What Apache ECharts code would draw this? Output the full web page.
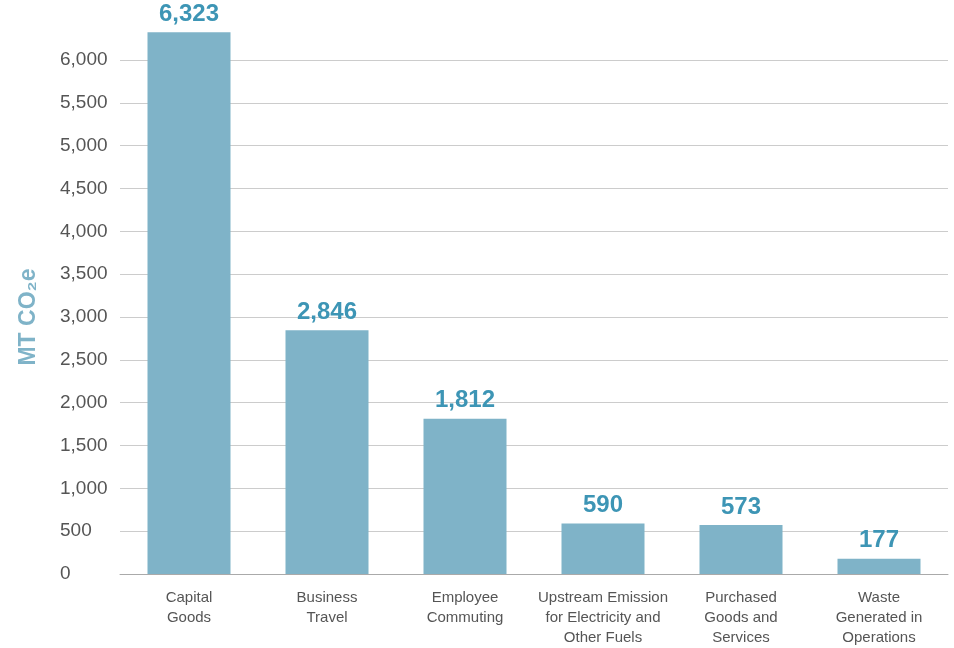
<!DOCTYPE html>
<html>
<head>
<meta charset="utf-8">
<script src="https://cdn.jsdelivr.net/npm/echarts@6/dist/echarts.min.js"></script>
<style>html,body{margin:0;padding:0;background:#fff}#c{width:954px;height:648px}</style>
</head>
<body>
<div id="c"></div>
<script>
const categories = ["Capital\nGoods", "Business\nTravel", "Employee\nCommuting", "Upstream Emission\nfor Electricity and\nOther Fuels", "Purchased\nGoods and\nServices", "Waste\nGenerated in\nOperations"];
const emissions = [6323, 2846, 1812, 590, 573, 177];
const yTicks = [0, 6000, 500];

const chart = echarts.init(document.getElementById('c'));
chart.setOption({
  backgroundColor: '#fff',
  animation: false,
  textStyle: { fontFamily: 'Liberation Sans, Arial, sans-serif' },
  grid: { left: 120, right: 6, top: 60, bottom: 69 },
  xAxis: {
    type: 'category',
    data: categories,
    axisLine: { lineStyle: { color: '#aaaaaa' } },
    axisTick: { show: false },
    axisLabel: { color: '#555', fontSize: 15, lineHeight: 20, margin: 14, interval: 0 }
  },
  yAxis: {
    type: 'value',
    min: yTicks[0], max: yTicks[1], interval: yTicks[2],
    name: 'MT CO₂e',
    nameLocation: 'middle',
    nameGap: 80,
    nameTextStyle: { color: '#7fb3c8', fontSize: 23, fontWeight: 'bold' },
    axisLine: { show: false },
    axisTick: { show: false },
    splitLine: { lineStyle: { color: '#cccccc' } },
    axisLabel: {
      color: '#555', fontSize: 19, align: 'left', margin: 60,
      formatter: v => v.toLocaleString('en-US')
    }
  },
  series: [{
    type: 'bar',
    data: emissions,
    barWidth: 83,
    clip: false,
    itemStyle: { color: '#7fb3c8' },
    label: {
      show: true, position: 'top', distance: 6,
      color: '#3d95b5', fontSize: 24, fontWeight: 'bold',
      formatter: p => p.value.toLocaleString('en-US')
    }
  }]
});
</script>
</body>
</html>
